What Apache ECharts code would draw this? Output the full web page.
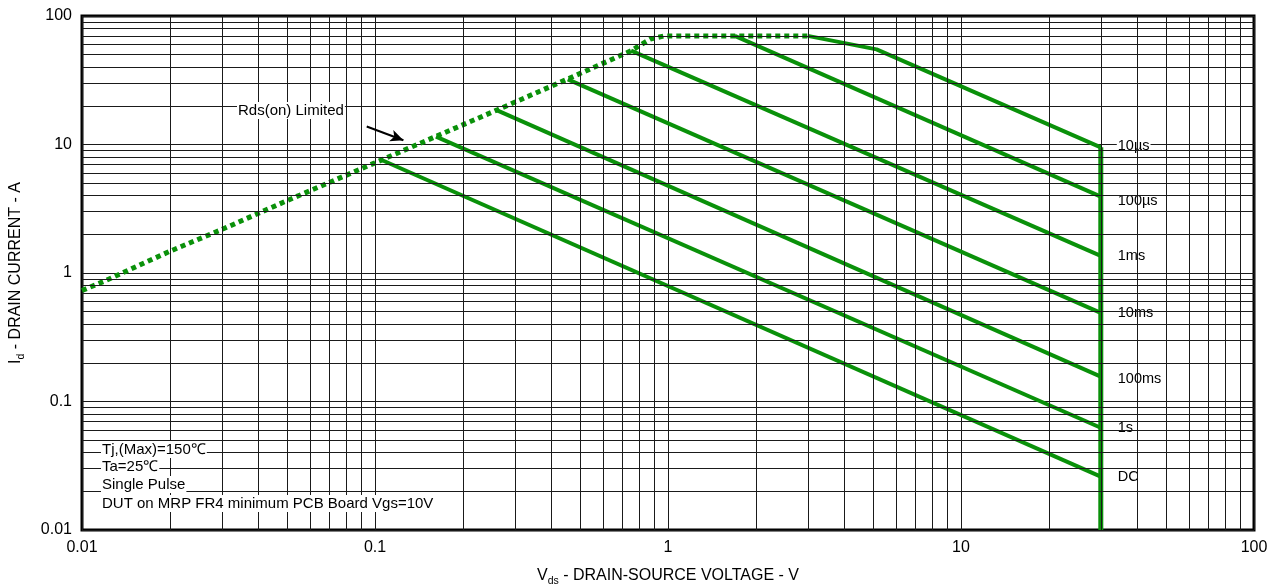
<!DOCTYPE html>
<html>
<head>
<meta charset="utf-8">
<script src="https://cdn.jsdelivr.net/npm/echarts@6/dist/echarts.min.js"></script>
<style>
html,body{margin:0;padding:0;background:#fff;overflow:hidden;}
#chart{width:1283px;height:584px;}
</style>
</head>
<body>
<div id="chart"></div>
<script>
// ---- Data ----
var xTickLabels = ['0.01', '0.1', '1', '10', '100'];
var yTickLabels = ['0.01', '0.1', '1', '10', '100'];

// Rds(on) limited boundary (dotted)
var rdsV = [0.01, 0.012, 0.02, 0.03, 0.05, 0.1, 0.26, 0.45, 0.75, 0.80, 0.87, 0.97, 3.0];
var rdsI = [0.73, 0.87, 1.48, 2.18, 3.65, 7.2, 18.5, 32, 53.7, 59, 66, 70, 70];

// Pulse lines
var v10us = [3.0, 5.15, 30];    var i10us = [70, 55, 9.5];
var v100us = [1.69, 30];        var i100us = [70, 3.93];
var v1ms = [0.748, 30];         var i1ms = [53.7, 1.36];
var v10ms = [0.455, 30];        var i10ms = [32.1, 0.49];
var v100ms = [0.26, 30];        var i100ms = [18.5, 0.156];
var v1s = [0.1615, 30];         var i1s = [11.5, 0.0625];
var vDC = [0.1054, 30];         var iDC = [7.57, 0.026];
// Vds max limit
var vMax = [30, 30];            var iMax = [9.5, 0.01];

var pulseNames = ['10\u00b5s', '100\u00b5s', '1ms', '10ms', '100ms', '1s', 'DC'];

function pairs(xs, ys) { return xs.map(function (x, k) { return [x, ys[k]]; }); }

// minor grid values 2..9 per decade
var decades = [0.01, 0.1, 1, 10];
var minorVals = [];
decades.forEach(function (d) { for (var k = 2; k <= 9; k++) minorVals.push(+(k * d).toPrecision(3)); });

var GREEN = '#0a910a';
var FONT = '"Liberation Sans", Arial, sans-serif';

function pulseSeries(name, xs, ys, labelOffset) {
  return {
    name: name, type: 'line', data: pairs(xs, ys), symbol: 'none', z: 3,
    lineStyle: { color: GREEN, width: 4 }, silent: true, animation: false,
    endLabel: {
      show: true, formatter: name, distance: 16, offset: labelOffset || [0, 0],
      color: '#000', fontSize: 14.5, fontFamily: FONT,
      backgroundColor: '#fff', padding: [1, 1]
    }
  };
}

var chart = echarts.init(document.getElementById('chart'), null, { renderer: 'canvas' });
var gridLineStyle = { color: '#1a1a1a', width: 1, type: 'solid' };

var option = {
  animation: false,
  backgroundColor: '#fff',
  grid: { left: 82, right: 29, top: 16, bottom: 54, outerBoundsMode: 'none', containLabel: false, show: true, borderColor: '#000', borderWidth: 3, backgroundColor: 'transparent' },
  xAxis: {
    type: 'log', logBase: 10, min: 0.01, max: 100,
    name: '{a|V}{s|ds}{a| - DRAIN-SOURCE VOLTAGE - V}',
    nameLocation: 'middle', nameGap: 36,
    nameTextStyle: {
      rich: {
        a: { fontSize: 16, fontFamily: FONT, color: '#000', lineHeight: 18, verticalAlign: 'bottom' },
        s: { fontSize: 10.5, fontFamily: FONT, color: '#000', lineHeight: 18, verticalAlign: 'bottom', padding: [0, 0, -3, 0] }
      }
    },
    axisLine: { show: false },
    axisTick: { show: false },
    axisLabel: {
      color: '#000', fontSize: 16, fontFamily: FONT, margin: 10,
      formatter: function (v) { return xTickLabels[Math.round(Math.log10(v)) + 2]; }
    },
    splitLine: { show: true, lineStyle: gridLineStyle }
  },
  yAxis: {
    type: 'log', logBase: 10, min: 0.01, max: 100,
    name: '{a|I}{s|d}{a| - DRAIN CURRENT - A}',
    nameLocation: 'middle', nameGap: 58,
    nameTextStyle: {
      rich: {
        a: { fontSize: 16, fontFamily: FONT, color: '#000', lineHeight: 18, verticalAlign: 'bottom' },
        s: { fontSize: 10.5, fontFamily: FONT, color: '#000', lineHeight: 18, verticalAlign: 'bottom', padding: [0, 0, -3, 0] }
      }
    },
    axisLine: { show: false },
    axisTick: { show: false },
    axisLabel: {
      color: '#000', fontSize: 16, fontFamily: FONT, margin: 10,
      formatter: function (v) { return yTickLabels[Math.round(Math.log10(v)) + 2]; }
    },
    splitLine: { show: true, lineStyle: gridLineStyle }
  },
  series: [
    {
      name: 'grid', type: 'line', data: [], symbol: 'none', z: 1, silent: true,
      markLine: {
        silent: true, symbol: 'none', label: { show: false }, animation: false,
        lineStyle: gridLineStyle,
        data: minorVals.map(function (v) { return { xAxis: v }; })
          .concat(minorVals.map(function (v) { return { yAxis: v }; }))
      }
    },
    {
      name: 'Rds', type: 'line', data: pairs(rdsV, rdsI), symbol: 'none', z: 3, silent: true,
      lineStyle: { color: GREEN, width: 5, type: [5, 4] }
    },
    pulseSeries(pulseNames[0], v10us, i10us, [0, -1]),
    pulseSeries(pulseNames[1], v100us, i100us, [0, 4]),
    pulseSeries(pulseNames[2], v1ms, i1ms),
    pulseSeries(pulseNames[3], v10ms, i10ms),
    pulseSeries(pulseNames[4], v100ms, i100ms, [0, 2]),
    pulseSeries(pulseNames[5], v1s, i1s),
    pulseSeries(pulseNames[6], vDC, iDC),
    {
      name: 'VdsMax', type: 'line', data: pairs(vMax, iMax), symbol: 'none', z: 3, silent: true,
      lineStyle: { color: GREEN, width: 5 }
    },
    {
      name: 'arrow', type: 'line', data: [], symbol: 'none', z: 4, silent: true,
      markLine: {
        silent: true, symbol: ['none', 'arrow'], symbolSize: [9, 13], label: { show: false },
        lineStyle: { color: '#000', width: 2, type: 'solid' },
        data: [[{ coord: [0.0937, 13.8] }, { coord: [0.125, 10.8] }]]
      }
    }
  ],
  graphic: [
    { type: 'text', left: 237, top: 102, z: 10, style: { text: 'Rds(on) Limited', fill: '#000', font: '15px ' + FONT, backgroundColor: '#fff', padding: [1, 1] } },
    { type: 'text', left: 101, top: 441, z: 10, style: { text: 'Tj,(Max)=150\u2103', fill: '#000', font: '15px ' + FONT, backgroundColor: '#fff', padding: [1, 1] } },
    { type: 'text', left: 101, top: 458, z: 10, style: { text: 'Ta=25\u2103', fill: '#000', font: '15px ' + FONT, backgroundColor: '#fff', padding: [1, 1] } },
    { type: 'text', left: 101, top: 476, z: 10, style: { text: 'Single Pulse', fill: '#000', font: '15px ' + FONT, backgroundColor: '#fff', padding: [1, 1] } },
    { type: 'text', left: 101, top: 495, z: 10, style: { text: 'DUT on MRP FR4 minimum PCB Board Vgs=10V', fill: '#000', font: '15px ' + FONT, backgroundColor: '#fff', padding: [1, 1] } }
  ]
};
chart.setOption(option);
</script>
</body>
</html>
